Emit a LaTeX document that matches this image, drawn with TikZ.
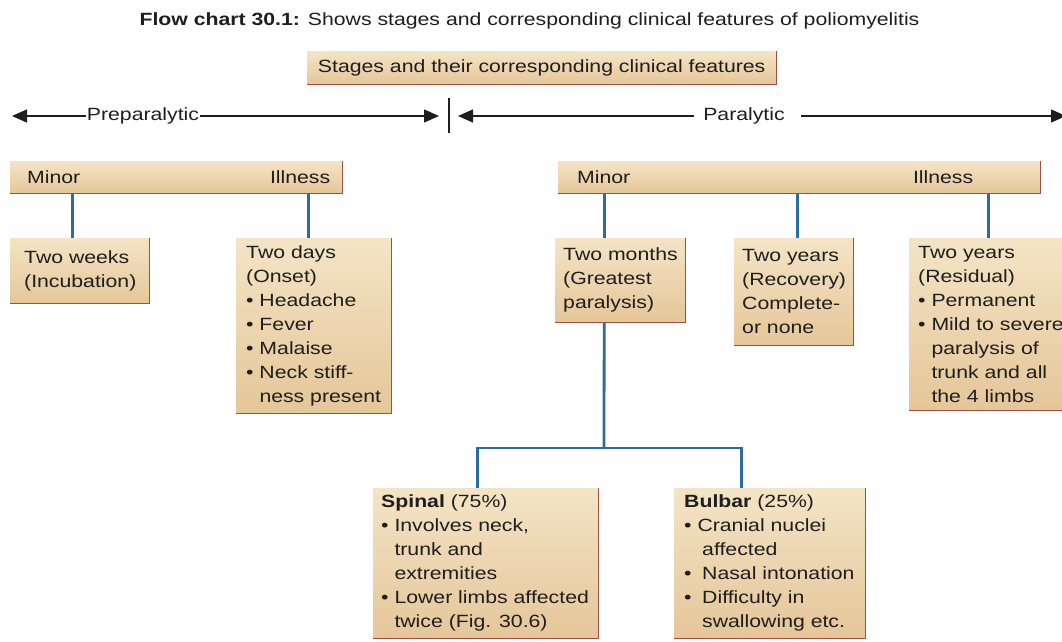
\documentclass[tikz,border=0pt]{standalone}
\usepackage{fontspec}
\setmainfont{Liberation Sans}[FakeStretch=1.2]
\usetikzlibrary{arrows.meta}
\definecolor{boxtop}{HTML}{F4E4C5}
\definecolor{boxbot}{HTML}{E5C699}
\definecolor{edge}{HTML}{9E5048}
\definecolor{link}{HTML}{2B6E9B}
\definecolor{ink}{HTML}{1E1E1E}
% bullet with a fixed-width slot, and the matching hanging indent
\newcommand{\bul}[1][13.3pt]{\makebox[#1][l]{•}}
\newcommand{\ind}[1][13.3pt]{\hspace*{#1}}

\begin{document}
\begin{tikzpicture}[x=1pt,y=-1pt,
  every node/.style={font=\fontsize{17.7pt}{24pt}\selectfont, text=ink},
  panel/.style={top color=boxtop, bottom color=boxbot, anchor=north west, inner sep=0pt},
  txt/.style={anchor=west, align=left, inner sep=0pt},
  rim/.style={draw=edge, line width=1.6pt},
  conn/.style={draw=link, line width=2.8pt},
  arr/.style={draw=ink, line width=1.3pt, -{Triangle[length=15pt,width=13pt]}},
]
\useasboundingbox (0,0) rectangle (1062,641);
\fill[white] (0,0) rectangle (1062,641);
\clip (0,0) rectangle (1062,641);

% caption
\node[anchor=base, inner sep=0pt] (title) at (529.5,25)
  {\textbf{Flow chart 30.1:} Shows stages and corresponding clinical features of poliomyelitis};

% heading box
\node[panel, minimum width=469pt, minimum height=33pt] (head) at (307,51)
  {Stages and their corresponding clinical features};

% stage arrows
\node[inner xsep=1pt, inner ysep=0pt] (pre) at (143,116) {Preparalytic};
\node[inner sep=0pt] (par) at (744,116) {Paralytic};
\coordinate (preL) at (12,116);
\coordinate (preR) at (439,116);
\coordinate (divT) at (449,98);
\coordinate (divB) at (449,133);
\coordinate (parL) at (458,116);
\coordinate (parR) at (1066,116);
\draw[arr] (pre.west) -- (preL);
\draw[arr] (pre.east) -- (preR);
\draw[arr] ([xshift=-9pt]par.west) -- (parL);
\draw[arr] ([xshift=16pt]par.east) -- (parR);
\draw[draw=ink, line width=1.3pt] (divT) -- (divB);

% illness bars
\node[panel, minimum width=332pt, minimum height=32pt] (barL) at (10,161) {};
\node[txt, xshift=17pt] (minL) at (barL.west) {Minor};
\node[anchor=east, inner sep=0pt, xshift=-12pt] (illL) at (barL.east) {Illness};
\node[panel, minimum width=482pt, minimum height=32pt] (barR) at (558,161) {};
\node[txt, xshift=19pt] (minR) at (barR.west) {Minor};
\node[anchor=east, inner sep=0pt, xshift=-67pt] (illR) at (barR.east) {Illness};

% stage boxes
\node[panel, minimum width=139pt, minimum height=65pt] (inc) at (10,238) {};
\node[txt, xshift=14pt] (incT) at (inc.west) {Two weeks\\(Incubation)};

\node[panel, minimum width=155pt, minimum height=175pt] (onset) at (236,238) {};
\node[txt, xshift=10pt] (onsetT) at (onset.west)
  {Two days\\(Onset)\\\bul Headache\\\bul Fever\\\bul Malaise\\\bul Neck stiff-\\\ind ness present};

\node[panel, minimum width=130pt, minimum height=84pt] (months) at (555,238) {};
\node[txt, xshift=8pt] (monthsT) at (months.west) {Two months\\(Greatest\\paralysis)};

\node[panel, minimum width=119pt, minimum height=107pt] (recov) at (734,238) {};
\node[txt, xshift=8pt] (recovT) at (recov.west) {Two years\\(Recovery)\\Complete-\\or none};

\node[panel, minimum width=161pt, minimum height=172pt] (resid) at (909,238) {};
\node[txt, xshift=9pt] (residT) at (resid.west)
  {Two years\\(Residual)\\\bul Permanent\\\bul Mild to severe\\\ind paralysis of\\\ind trunk and all\\\ind the 4 limbs};

\node[panel, minimum width=225pt, minimum height=150pt] (spinal) at (373,488) {};
\node[txt, xshift=8pt] (spinalT) at (spinal.west)
  {\textbf{Spinal} (75\%)\\\bul Involves neck,\\\ind trunk and\\\ind extremities\\\bul Lower limbs affected\\\ind twice (Fig. 30.6)};

\node[panel, minimum width=191pt, minimum height=150pt] (bulbar) at (674,488) {};
\node[txt, xshift=10pt] (bulbarT) at (bulbar.west)
  {\textbf{Bulbar} (25\%)\\\bul Cranial nuclei\\\ind[18pt]affected\\\bul[18pt]Nasal intonation\\\bul[18pt]Difficulty in\\\ind[18pt]swallowing etc.};

% connectors
\draw[conn] ([xshift=-7.5pt]inc.north) -- ([xshift=-7.5pt]inc.north |- barL.south);
\draw[conn] ([xshift=-5.5pt]onset.north) -- ([xshift=-5.5pt]onset.north |- barL.south);
\draw[conn] ([xshift=-16pt]months.north) -- ([xshift=-16pt]months.north |- barR.south);
\draw[conn] ([xshift=3.5pt]recov.north) -- ([xshift=3.5pt]recov.north |- barR.south);
\draw[conn] ([xshift=-1.5pt]resid.north) -- ([xshift=-1.5pt]resid.north |- barR.south);
\coordinate (split) at (604,448);
\draw[conn] ([xshift=-16pt]months.south) -- (split);
\draw[conn] ([xshift=-8.5pt]spinal.north) |- (split) -| ([xshift=-28.5pt]bulbar.north);

% shaded rims on the right and lower sides of every box
\foreach \b in {head,barL,barR,inc,onset,months,recov,resid,spinal,bulbar}
  \draw[rim] (\b.north east) -- (\b.south east) -- (\b.south west);
\end{tikzpicture}
\end{document}
